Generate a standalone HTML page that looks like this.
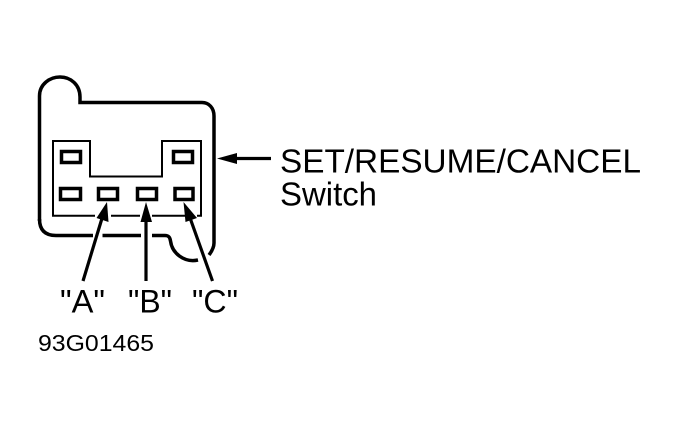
<!DOCTYPE html>
<html><head><meta charset="utf-8"><style>
html,body{margin:0;padding:0;background:#fff}
svg{display:block}
text{font-family:"Liberation Sans",sans-serif;fill:#000}
</style></head><body>
<svg width="678" height="427" viewBox="0 0 678 427" xmlns="http://www.w3.org/2000/svg">
<g fill="none" stroke="#000">
<path stroke-width="3.5" d="M39.500 221V96C39.500 84 50 77 60 77C71 77 80 85 80 97V102.500H202C209 102.500 214 108 214 116V243C214 247 212 251 209 255"/>
<path stroke-width="3.500" d="M39.500 219C39.500 230 45 235.500 56 235.500H93M102.500 235.500H141M152 235.500H165C168.500 235.500 170 237 170.500 241C172 253 184 263 198 260"/>
<path stroke-width="2" d="M95 215.700H53V141H90V176.500H162V141H201V215.700H197M185 215.700H152M140 215.700H111"/>
<g stroke-width="3.500">
<rect x="61.500" y="151.500" width="19" height="11"/>
<rect x="173.500" y="151.500" width="19" height="11"/>
<rect x="60.500" y="188.500" width="20" height="11"/>
<rect x="98.500" y="188.500" width="19" height="11"/>
<rect x="137.500" y="188.500" width="19" height="11"/>
<rect x="175" y="188.500" width="18" height="11"/>
</g>
<g stroke-width="3.200">
<path d="M83 281L103 215"/>
<path d="M146 281V215"/>
<path d="M212.500 281L189 215"/>
<path d="M232 158.500H271"/>
</g>
</g>
<g fill="#000">
<path d="M107 202L108.500 222L96.500 218Z"/>
<path d="M146 202L152 222L140.500 222Z"/>
<path d="M183.500 202L197 218L185.500 222Z"/>
<path d="M217 158.500L237 153V164Z"/>
</g>
<text x="280" y="172.500" font-size="33.500" textLength="361" lengthAdjust="spacingAndGlyphs">SET/RESUME/CANCEL</text>
<text x="280" y="205.500" font-size="33.500" textLength="97" lengthAdjust="spacingAndGlyphs">Switch</text>
<text x="60" y="312.500" font-size="32.500" textLength="45" lengthAdjust="spacingAndGlyphs">"A"</text>
<text x="128" y="312.500" font-size="32.500" textLength="44" lengthAdjust="spacingAndGlyphs">"B"</text>
<text x="192" y="312.500" font-size="32.500" textLength="46" lengthAdjust="spacingAndGlyphs">"C"</text>
<text x="38" y="351" font-size="23.500" textLength="116" lengthAdjust="spacingAndGlyphs">93G01465</text>
</svg>
</body></html>
